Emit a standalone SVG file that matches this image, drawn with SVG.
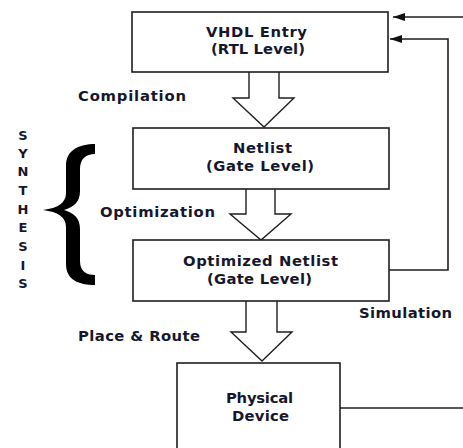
<svg xmlns="http://www.w3.org/2000/svg" width="463" height="448" viewBox="0 0 463 448">
  <style>
    .box { fill: #ffffff; stroke: #1e1e1e; stroke-width: 1.6; }
    .flow { fill: #ffffff; stroke: #1e1e1e; stroke-width: 1.4; stroke-linejoin: miter; }
    .wire { fill: none; stroke: #1e1e1e; stroke-width: 1.6; }
    .lbl { font-family: "DejaVu Sans", Verdana, sans-serif; font-weight: bold; font-size: 14.8px; fill: #17172c; }
    .vert { font-family: "DejaVu Sans", Verdana, sans-serif; font-weight: bold; font-size: 13px; fill: #17172c; text-anchor: middle; }
  </style>
  <defs>
    <marker id="head" viewBox="0 0 12 8" refX="12" refY="4" markerWidth="12" markerHeight="8" markerUnits="userSpaceOnUse" orient="auto">
      <path d="M0,0 L12,4 L0,8 Z" fill="#111"/>
    </marker>
  </defs>
  <rect width="463" height="448" fill="#ffffff"/>

  <!-- side label and brace for the synthesis stage -->
  <g id="synthesis">
    <text class="vert" x="23" y="140">S</text>
    <text class="vert" x="23" y="158">Y</text>
    <text class="vert" x="23" y="176">N</text>
    <text class="vert" x="23" y="195">T</text>
    <text class="vert" x="23" y="214">H</text>
    <text class="vert" x="23" y="232">E</text>
    <text class="vert" x="23" y="251">S</text>
    <text class="vert" x="23" y="270">I</text>
    <text class="vert" x="23" y="288">S</text>
    <path d="M95,144 C79,144 66,150 66,166 L66,193 C66,203 58,208 43,210 C58,212 66,217 66,227 L66,264 C66,280 79,285 95,285 L95,275 C86,275 80,271 80,261 L80,229 C80,218 74,213 64,210 C74,207 80,202 80,191 L80,169 C80,159 86,154 95,154 Z" fill="#000"/>
  </g>

  <!-- connectors -->
  <g id="connectors">
    <path class="flow" d="M249,72 V98 H233 L264,127 L294,98 H279 V72"/>
    <path class="flow" d="M246,189 V214 H230 L261,240 L291,214 H275 V189"/>
    <path class="flow" d="M246,301 V332 H231 L262,361 L292,332 H277 V301"/>
    <path class="wire" d="M463,17 H393" marker-end="url(#head)"/>
    <path class="wire" d="M389,270 H448 V39 H390" marker-end="url(#head)"/>
    <path class="wire" d="M340,408 H463"/>
    <text class="lbl" x="78" y="101" textLength="108" lengthAdjust="spacing">Compilation</text>
    <text class="lbl" x="100" y="217" textLength="115" lengthAdjust="spacing">Optimization</text>
    <text class="lbl" x="78" y="341" textLength="122" lengthAdjust="spacing">Place &amp; Route</text>
    <text class="lbl" x="359" y="318" textLength="93" lengthAdjust="spacing">Simulation</text>
  </g>

  <g id="vhdl-entry">
    <rect class="box" x="132" y="12" width="256" height="60"/>
    <text class="lbl" x="206" y="37" textLength="101" lengthAdjust="spacing">VHDL Entry</text>
    <text class="lbl" x="211" y="54" textLength="94" lengthAdjust="spacing">(RTL Level)</text>
  </g>

  <g id="netlist">
    <rect class="box" x="133" y="128" width="256" height="61"/>
    <text class="lbl" x="233" y="153" textLength="59" lengthAdjust="spacing">Netlist</text>
    <text class="lbl" x="206" y="171" textLength="108" lengthAdjust="spacing">(Gate Level)</text>
  </g>

  <g id="optimized-netlist">
    <rect class="box" x="133" y="240" width="256" height="61"/>
    <text class="lbl" x="183" y="266" textLength="155" lengthAdjust="spacing">Optimized Netlist</text>
    <text class="lbl" x="207" y="284" textLength="105" lengthAdjust="spacing">(Gate Level)</text>
  </g>

  <g id="physical-device">
    <rect class="box" x="177" y="363" width="163" height="100"/>
    <text class="lbl" x="226" y="403" textLength="67" lengthAdjust="spacing">Physical</text>
    <text class="lbl" x="232" y="421" textLength="57" lengthAdjust="spacing">Device</text>
  </g>
</svg>
